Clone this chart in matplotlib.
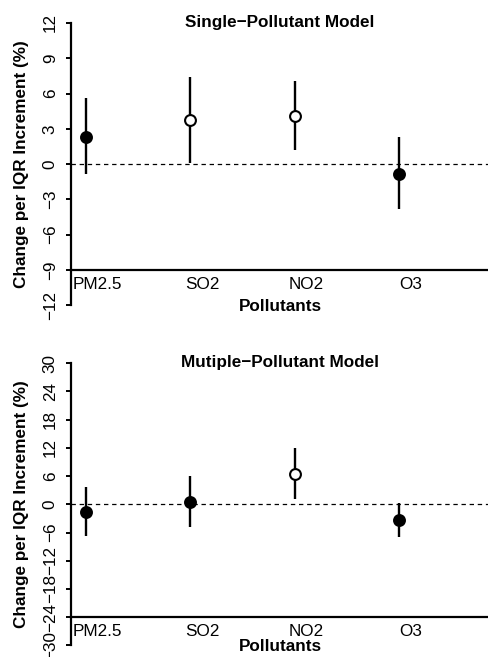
import numpy as np
import matplotlib
matplotlib.use("Agg")
import matplotlib.pyplot as plt

plt.rcParams['font.family'] = ['Liberation Sans', 'DejaVu Sans']

pollutants = ['PM2.5', 'SO2', 'NO2', 'O3']

# single-pollutant model: estimate and 95% CI
single_est = [2.31, 3.73, 4.10, -0.82]
single_lo = [-0.85, 0.12, 1.17, -3.85]
single_hi = [5.59, 7.44, 7.07, 2.28]
single_hollow = [False, True, True, False]

# multiple-pollutant model
multi_est = [-1.56, 0.57, 6.38, -3.33]
multi_lo = [-6.67, -4.75, 1.13, -6.90]
multi_hi = [3.76, 6.10, 11.90, 0.20]
multi_hollow = [False, False, True, False]

single_ticks = [-12, -9, -6, -3, 0, 3, 6, 9, 12]
multi_ticks = [-30, -24, -18, -12, -6, 0, 6, 12, 18, 24, 30]

FS = 12.3


def draw_panel(ax, est, lo, hi, hollow, yticks, base_y, title):
    x = np.arange(1, len(est) + 1)
    ax.axhline(0, color='black', lw=0.9, ls=(0, (3.5, 3)), zorder=1)
    ax.vlines(x, lo, hi, color='black', lw=1.7, zorder=2)
    for xi, e, h in zip(x, est, hollow):
        ax.plot(xi, e, 'o', ms=7.8, mfc='white' if h else 'black',
                mec='black', mew=1.5, zorder=3)

    ax.set_xlim(0.856, 4.86)
    ax.set_ylim(yticks[0], yticks[-1])
    for s in ['top', 'right']:
        ax.spines[s].set_visible(False)
    ax.spines['left'].set_linewidth(1.6)
    ax.spines['bottom'].set_linewidth(1.6)
    ax.spines['bottom'].set_position(('data', base_y))

    ax.set_yticks(yticks)
    ax.set_yticklabels([str(t).replace('-', '\u2212') for t in yticks],
                       rotation=90, va='center', fontsize=FS)
    ax.tick_params(axis='y', length=3.5, width=1.4, pad=6)

    # labels sit a little right of the points, as in the original
    ax.set_xticks(x + 0.11)
    ax.set_xticklabels(pollutants, fontsize=FS)
    ax.tick_params(axis='x', length=0, pad=5)

    ax.set_xlabel('Pollutants', fontweight='bold', fontsize=FS)
    ax.xaxis.set_label_coords(0.5, 0.021)
    ax.set_ylabel('Change per IQR Increment (%)', fontweight='bold', fontsize=FS)
    ax.yaxis.set_label_coords(-0.1, 0.5)
    ax.text(0.5, 0.986, title, transform=ax.transAxes, ha='center',
            va='baseline', fontweight='bold', fontsize=FS)


fig = plt.figure(figsize=(4.89, 6.57), dpi=100)
ax1 = fig.add_axes([71 / 489, 1 - 305 / 657, 418 / 489, 282 / 657])
ax2 = fig.add_axes([71 / 489, 1 - 645.3 / 657, 418 / 489, 282 / 657])

draw_panel(ax1, single_est, single_lo, single_hi, single_hollow,
           single_ticks, -9, 'Single\u2212Pollutant Model')
draw_panel(ax2, multi_est, multi_lo, multi_hi, multi_hollow,
           multi_ticks, -24, 'Mutiple\u2212Pollutant Model')

fig.savefig('out.png', dpi=100)
